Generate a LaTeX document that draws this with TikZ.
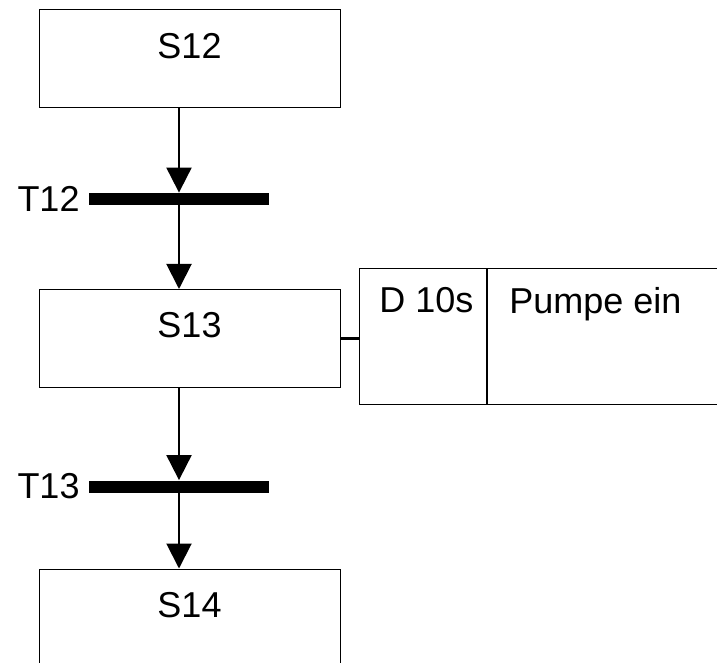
\documentclass[tikz,border=0pt]{standalone}
\usepackage{fontspec}
\setmainfont{Liberation Sans}
\usetikzlibrary{arrows.meta}
\tikzset{
	stepbox/.style={draw, line width=0.5pt, minimum width=150.5pt, minimum height=49pt, inner sep=0pt},
	steptext/.style={anchor=north, inner sep=0pt, yshift=-11.5pt},
	transbar/.style={fill=black, minimum width=90pt, minimum height=6pt, inner sep=0pt},
	transtext/.style={label distance=1pt},
	actbox/.style={draw, line width=0.5pt, minimum height=68pt, inner sep=0pt, anchor=north west},
	acttext/.style={anchor=north west, inner sep=0pt, yshift=-9.5pt},
	flow/.style={line width=1pt, -{Triangle[length=12.5pt,width=12.5pt]}}
}

\begin{document}
\begin{tikzpicture}[x=0.5pt, y=-0.5pt, font=\fontsize{18}{21}\selectfont]
		%%%%% START %%%%%
		\useasboundingbox (0, 0) rectangle (717, 663);
		\clip (0, 0) rectangle (717, 663);
		
		\node[stepbox, label={[steptext]north:S12}] (s12) at (189.5, 59) {};
		\node[transbar, label={[transtext]west:T12}] (t12) at (179, 199) {};
		\node[stepbox, label={[steptext]north:S13}] (s13) at (189.5, 338.5) {};
		\node[transbar, label={[transtext]west:T13}] (t13) at (179, 486.5) {};
		\node[stepbox, label={[steptext]north:S14}] (s14) at (189.5, 618) {};
		
		\node[actbox, minimum width=63.5pt, label={[acttext, xshift=10pt]north west:D 10s}] (qual) at (359, 268) {};
		\node[actbox, minimum width=160pt, label={[acttext, xshift=11pt]north west:Pumpe ein}] (act) at (qual.north east) {};
		
		\draw[flow] (s12.south -| t12.north) -- (t12.north);
		\draw[flow] (t12.south) -- (s13.north -| t12.south);
		\draw[flow] (s13.south -| t13.north) -- (t13.north);
		\draw[flow] (t13.south) -- (s14.north -| t13.south);
		\draw[line width=1.5pt] (s13.east) -- (s13.east -| qual.west);
		%%%%% END %%%%%
	\end{tikzpicture}
\end{document}
